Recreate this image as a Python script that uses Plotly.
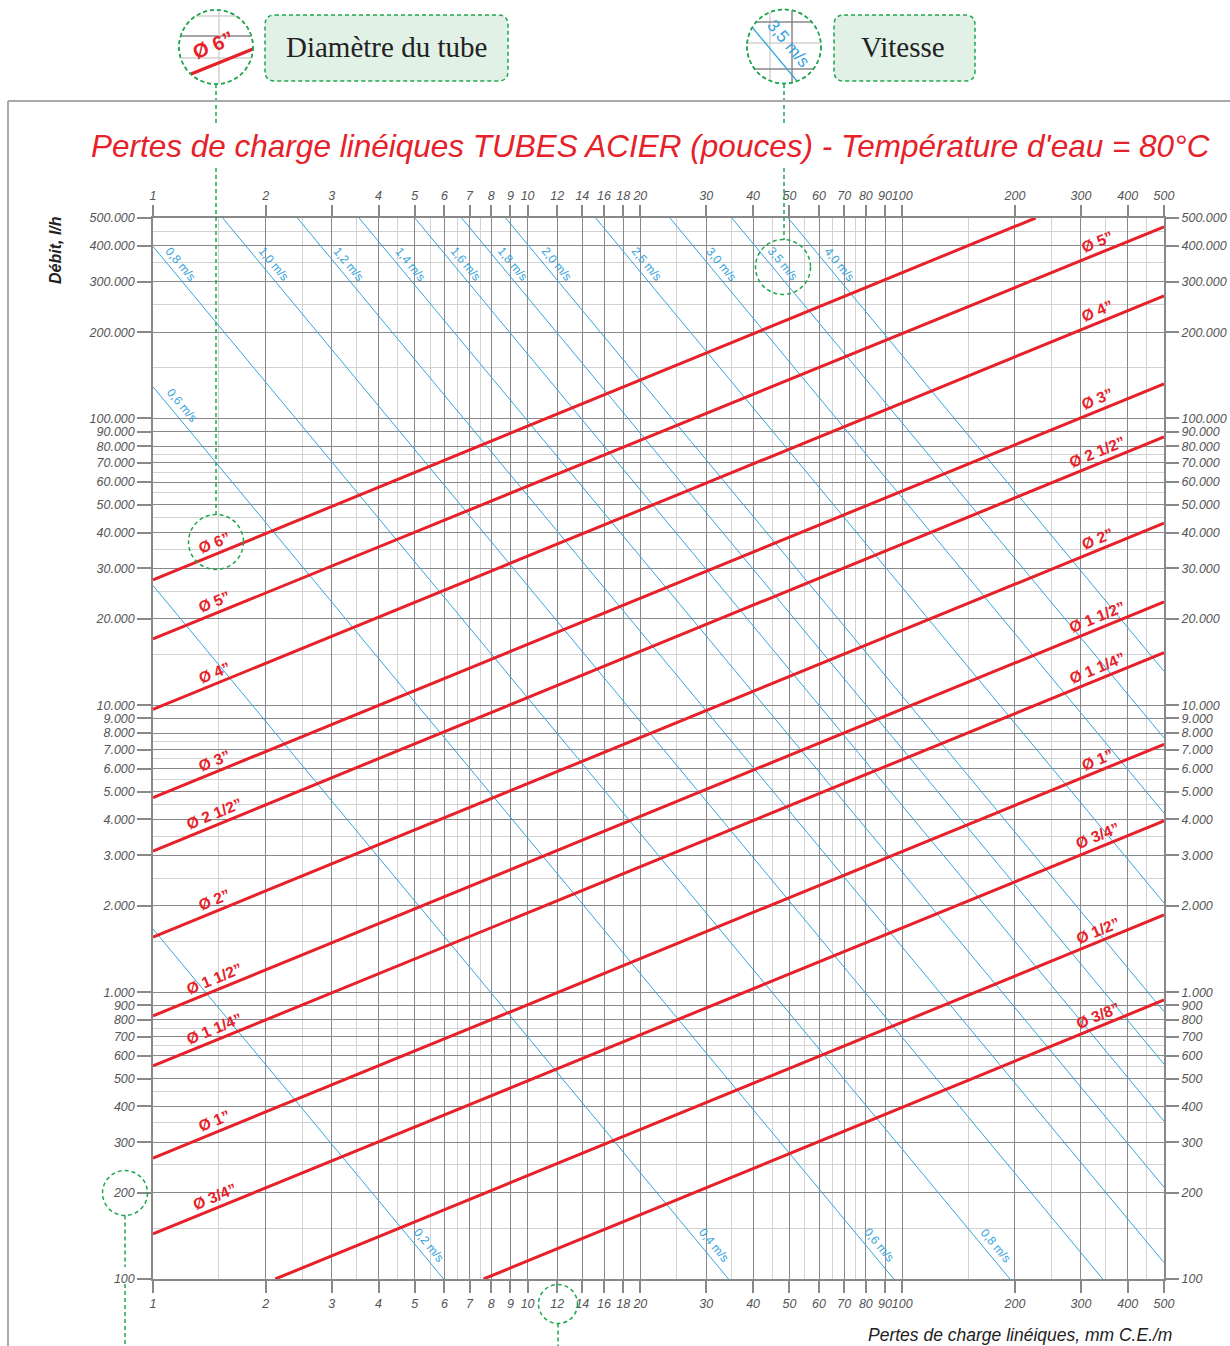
import numpy as np
import plotly.graph_objects as go

# ---------------- data ----------------
x_tick_values = [1, 2, 3, 4, 5, 6, 7, 8, 9, 10, 12, 14, 16, 18, 20, 30, 40, 50, 60, 70, 80, 90,
                 100, 200, 300, 400, 500]
x_tick_labels = [str(v) for v in x_tick_values]
x_minor_values = [1.5, 2.5, 3.5, 4.5, 5.5, 6.5, 7.5, 25, 35, 45, 55, 65, 75, 150, 250, 350, 450]

y_tick_values = [100, 200, 300, 400, 500, 600, 700, 800, 900,
                 1000, 2000, 3000, 4000, 5000, 6000, 7000, 8000, 9000,
                 10000, 20000, 30000, 40000, 50000, 60000, 70000, 80000, 90000,
                 100000, 200000, 300000, 400000, 500000]
y_tick_labels = ["100", "200", "300", "400", "500", "600", "700", "800", "900",
                 "1.000", "2.000", "3.000", "4.000", "5.000", "6.000", "7.000", "8.000", "9.000",
                 "10.000", "20.000", "30.000", "40.000", "50.000", "60.000", "70.000", "80.000", "90.000",
                 "100.000", "200.000", "300.000", "400.000", "500.000"]
y_minor_values = [150, 250, 350, 450, 550, 650, 750,
                  1500, 2500, 3500, 4500, 5500, 6500, 7500,
                  15000, 25000, 35000, 45000, 55000, 65000, 75000,
                  150000, 250000, 350000, 450000]

# pipe diameter lines (pressure loss mm/m, flow l/h)
pipe_labels = ["Ø 6”", "Ø 5”", "Ø 4”", "Ø 3”", "Ø 2 1/2”", "Ø 2”", "Ø 1 1/2”", "Ø 1 1/4”",
               "Ø 1”", "Ø 3/4”", "Ø 1/2”", "Ø 3/8”"]
pipe_j_start = [1, 1, 1, 1, 1, 1, 1, 1, 1, 1, 2.12, 7.63]
pipe_q_start = [27400, 17040, 9680, 4766, 3105, 1557, 826, 553, 264, 143.6, 100, 100]
pipe_j_end = [227, 500, 500, 500, 500, 500, 500, 500, 500, 500, 500, 500]
pipe_q_end = [500000, 466000, 267600, 132000, 86300, 43150, 22940, 15270, 7315, 3955, 1858, 939]
pipe_label_left = [True, True, True, True, True, True, True, True, True, True, False, False]
pipe_label_right = [False, True, True, True, True, True, True, True, True, True, True, True]

# velocity lines
vel_labels = ["0,2 m/s", "0,4 m/s", "0,6 m/s", "0,8 m/s", "1,0 m/s", "1,2 m/s", "1,4 m/s",
              "1,6 m/s", "1,8 m/s", "2,0 m/s", "2,5 m/s", "3,0 m/s", "3,5 m/s", "4,0 m/s"]
vel_j_start = [1, 1, 1, 1, 1.535, 2.43, 3.55, 5.0, 6.67, 8.74, 15.2, 24.0, 35.1, 49.6]
vel_q_start = [1661, 26150, 129000, 398000, 500000, 500000, 500000, 500000, 500000, 500000,
               500000, 500000, 500000, 500000]
vel_j_end = [5.97, 34.4, 95, 194, 343, 500, 500, 500, 500, 500, 500, 500, 500, 500]
vel_q_end = [100, 100, 100, 100, 100, 114, 209, 355, 561, 855, 2045, 4210, 7700, 13150]
# flow at which each velocity label is written (None = no label there)
vel_label_q_top = [None, None, 111000, 346000, 346000, 346000, 346000, 346000, 346000, 346000,
                   346000, 346000, 346000, 346000]
vel_label_q_bottom = [131, 131, 131, 131, None, None, None, None, None, None, None, None, None, None]

# ---------------- styling ----------------
W, H = 1230, 1346
ML, MR, MT, MB = 153, 66, 218, 67
PW, PH = W - ML - MR, H - MT - MB
RED = "#e62129"
BLUE = "#36a3dd"
GREEN = "#1fa64f"
GRID_DARK = "#888888"
GRID_LIGHT = "#d2d2d2"
SANS = "Liberation Sans, Arial, Helvetica, sans-serif"
SERIF = "Liberation Serif, Times New Roman, serif"

XMIN, XMAX = 1, 500
YMIN, YMAX = 100, 500000
px_per_dec_x = PW / (np.log10(XMAX) - np.log10(XMIN))
px_per_dec_y = PH / (np.log10(YMAX) - np.log10(YMIN))


def X(p):
    return (p - ML) / PW


def Y(p):
    return (H - MB - p) / PH


def interp_j(j1, q1, j2, q2, q):
    t = (np.log10(q) - np.log10(q1)) / (np.log10(q2) - np.log10(q1))
    return 10 ** (np.log10(j1) + t * (np.log10(j2) - np.log10(j1)))


def interp_q(j1, q1, j2, q2, j):
    t = (np.log10(j) - np.log10(j1)) / (np.log10(j2) - np.log10(j1))
    return 10 ** (np.log10(q1) + t * (np.log10(q2) - np.log10(q1)))


fig = go.Figure()

# velocity lines
for i in range(len(vel_labels)):
    fig.add_trace(go.Scatter(x=[vel_j_start[i], vel_j_end[i]], y=[vel_q_start[i], vel_q_end[i]],
                             mode="lines", line=dict(color=BLUE, width=1),
                             hoverinfo="skip", showlegend=False))
# pipe lines
for i in range(len(pipe_labels)):
    fig.add_trace(go.Scatter(x=[pipe_j_start[i], pipe_j_end[i]], y=[pipe_q_start[i], pipe_q_end[i]],
                             mode="lines", line=dict(color=RED, width=3),
                             hoverinfo="skip", showlegend=False))
# dummy trace for secondary axes
fig.add_trace(go.Scatter(x=[10], y=[1000], xaxis="x2", yaxis="y2", mode="markers",
                         marker=dict(opacity=0), hoverinfo="skip", showlegend=False))

annotations = []
shapes = []


def note(xp, yp, text, font, **kw):
    d = dict(x=X(xp), y=Y(yp), xref="paper", yref="paper", showarrow=False, text=text,
             font=font, xanchor="center", yanchor="middle")
    d.update(kw)
    annotations.append(d)


# pipe labels
red_angle = -np.degrees(np.arctan(
    (np.log10(pipe_q_end[1]) - np.log10(pipe_q_start[1])) /
    (np.log10(pipe_j_end[1]) - np.log10(pipe_j_start[1])) * px_per_dec_y / px_per_dec_x))
J_LEFT, J_RIGHT = 1.46, 333
for i, lab in enumerate(pipe_labels):
    for show, jl in ((pipe_label_left[i], J_LEFT), (pipe_label_right[i], J_RIGHT)):
        if not show:
            continue
        q = interp_q(pipe_j_start[i], pipe_q_start[i], pipe_j_end[i], pipe_q_end[i], jl)
        annotations.append(dict(x=np.log10(jl), y=np.log10(q), xref="x", yref="y",
                                xanchor="center", yanchor="middle",
                                text="<b>" + lab + "</b>", showarrow=False, textangle=red_angle,
                                yshift=12, font=dict(family=SANS, size=15.5, color=RED)))

# velocity labels
blue_angle = np.degrees(np.arctan(
    (np.log10(vel_q_start[5]) - np.log10(vel_q_end[5])) /
    (np.log10(vel_j_end[5]) - np.log10(vel_j_start[5])) * px_per_dec_y / px_per_dec_x))
for i, lab in enumerate(vel_labels):
    for ql in (vel_label_q_top[i], vel_label_q_bottom[i]):
        if ql is None:
            continue
        j = interp_j(vel_j_start[i], vel_q_start[i], vel_j_end[i], vel_q_end[i], ql)
        annotations.append(dict(x=np.log10(j), y=np.log10(ql), xref="x", yref="y",
                                xanchor="center", yanchor="middle",
                                text=lab, showarrow=False, textangle=blue_angle, xshift=13,
                                font=dict(family=SANS, size=12, color=BLUE)))

# title and axis titles
note(650, 146, "Pertes de charge linéiques TUBES ACIER (pouces) - Température d'eau = 80°C",
     dict(family=SANS, size=31.5, color=RED, style="italic"), bgcolor="white", borderpad=2)
note(55, 250, "Débit, l/h",
     dict(family=SANS, size=16, color="#222222", style="italic", weight="bold"), textangle=-90)
note(1174, 1335, "Pertes de charge linéiques, mm C.E./m",
     dict(family=SANS, size=17.5, color="#222222", style="italic"), xanchor="right")


# header boxes
def rounded_rect(x0, y0, x1, y1, r):
    return (f"M {X(x0 + r)},{Y(y0)} L {X(x1 - r)},{Y(y0)} Q {X(x1)},{Y(y0)} {X(x1)},{Y(y0 + r)} "
            f"L {X(x1)},{Y(y1 - r)} Q {X(x1)},{Y(y1)} {X(x1 - r)},{Y(y1)} "
            f"L {X(x0 + r)},{Y(y1)} Q {X(x0)},{Y(y1)} {X(x0)},{Y(y1 - r)} "
            f"L {X(x0)},{Y(y0 + r)} Q {X(x0)},{Y(y0)} {X(x0 + r)},{Y(y0)} Z")


DASH = "4px,3px"
for (x0, y0, x1, y1) in ((265, 15, 508, 81), (834, 15, 975, 81)):
    shapes.append(dict(type="path", xref="paper", yref="paper", path=rounded_rect(x0, y0, x1, y1, 10),
                       fillcolor="#e1f1e6", line=dict(color=GREEN, width=1.5, dash=DASH), layer="above"))
note(386.5, 47, "Diamètre du tube", dict(family=SERIF, size=29, color="#222222"))
note(903, 47, "Vitesse", dict(family=SERIF, size=29, color="#222222"))


def seg(x0, y0, x1, y1, color, width, dash=None):
    d = dict(color=color, width=width)
    if dash:
        d["dash"] = dash
    shapes.append(dict(type="line", xref="paper", yref="paper", x0=X(x0), y0=Y(y0), x1=X(x1), y1=Y(y1),
                       line=d, layer="above"))


def circle(cx, cy, r, fill=None):
    shapes.append(dict(type="circle", xref="paper", yref="paper", x0=X(cx - r), x1=X(cx + r),
                       y0=Y(cy + r), y1=Y(cy - r), fillcolor=fill if fill else "rgba(0,0,0,0)",
                       line=dict(color=GREEN, width=1.5, dash=DASH), layer="above"))


def hchord(cx, cy, r, y, color, width):
    h = np.sqrt(max(r * r - (y - cy) ** 2, 0))
    seg(cx - h, y, cx + h, y, color, width)


def vchord(cx, cy, r, x, color, width):
    h = np.sqrt(max(r * r - (x - cx) ** 2, 0))
    seg(x, cy - h, x, cy + h, color, width)


# magnifier 1 : pipe diameter
c1 = (216, 47, 37)
circle(*c1, fill="white")
hchord(*c1, 16, GRID_LIGHT, 1.5)
hchord(*c1, 58, GRID_LIGHT, 1.5)
hchord(*c1, 36, GRID_DARK, 1.5)
vchord(*c1, 219, GRID_LIGHT, 1.5)
seg(191, 74, 253, 49, RED, 3.5)
note(213, 45, "<b>Ø 6”</b>", dict(family=SANS, size=20, color=RED), textangle=red_angle)
circle(*c1)

# magnifier 2 : velocity
c2 = (784, 46.5, 37)
circle(*c2, fill="white")
hchord(*c2, 43, GRID_LIGHT, 1.5)
vchord(*c2, 770, GRID_LIGHT, 1.5)
hchord(*c2, 22, GRID_DARK, 1.5)
hchord(*c2, 69, GRID_DARK, 1.5)
vchord(*c2, 792, GRID_DARK, 1.5)
seg(752, 27, 797, 81, BLUE, 1.3)
note(788, 44, "3,5 m/s", dict(family=SANS, size=17, color=BLUE), textangle=blue_angle)
circle(*c2)

# connector lines and in-chart circles
seg(216, 84, 216, 515, GREEN, 1.5, DASH)
circle(216, 542, 27.5)
seg(784, 84, 784, 240, GREEN, 1.5, DASH)
circle(783, 267, 27.5)
circle(125, 1193, 22.5)
seg(125, 1215.5, 125, 1267, GREEN, 1.5, DASH)
seg(125, 1284, 125, 1346, GREEN, 1.5, DASH)
circle(558, 1304, 19.5)
seg(558, 1323.5, 558, 1346, GREEN, 1.5, DASH)

# outer frame
seg(8, 101, 1232, 101, "#a9a9a9", 2)
seg(8, 101, 8, 1350, "#a9a9a9", 2)

tickfont = dict(family=SANS, size=12.5, color="#555555", style="italic")
xr = [np.log10(XMIN), np.log10(XMAX)]
yr = [np.log10(YMIN), np.log10(YMAX)]
common_x = dict(type="log", range=xr, tickmode="array", tickvals=x_tick_values, ticktext=x_tick_labels,
                ticks="outside", ticklen=12, tickwidth=1.5, tickcolor=GRID_DARK, tickfont=tickfont,
                tickangle=0, automargin=False, zeroline=False, fixedrange=True)
common_y = dict(type="log", range=yr, tickmode="array", tickvals=y_tick_values, ticktext=y_tick_labels,
                ticks="outside", ticklen=14, tickwidth=1.5, tickcolor=GRID_DARK, tickfont=tickfont,
                tickangle=0, automargin=False, zeroline=False, fixedrange=True)

fig.update_layout(
    width=W, height=H, autosize=False,
    margin=dict(l=ML, r=MR, t=MT, b=MB, pad=0, autoexpand=False),
    paper_bgcolor="white", plot_bgcolor="white",
    showlegend=False,
    xaxis=dict(**common_x, side="bottom", showgrid=True, gridcolor=GRID_DARK, gridwidth=1.3,
               minor=dict(tickmode="array", tickvals=x_minor_values, showgrid=True,
                          gridcolor=GRID_LIGHT, gridwidth=1.3, ticks=""),
               showline=True, linecolor=GRID_DARK, linewidth=1.5, mirror=True, anchor="y"),
    xaxis2=dict(**common_x, side="top", overlaying="x", anchor="y", showgrid=False, showline=False),
    yaxis=dict(**common_y, side="left", showgrid=True, gridcolor=GRID_DARK, gridwidth=1.3,
               minor=dict(tickmode="array", tickvals=y_minor_values, showgrid=True,
                          gridcolor=GRID_LIGHT, gridwidth=1.3, ticks=""),
               showline=True, linecolor=GRID_DARK, linewidth=1.5, mirror=True, anchor="x"),
    yaxis2=dict(**common_y, side="right", overlaying="y", anchor="x", showgrid=False, showline=False),
    annotations=annotations,
    shapes=shapes,
)

fig.write_html("out.html", config={"displayModeBar": False},
               post_script="document.body.style.margin='0';document.body.style.overflow='hidden';")
